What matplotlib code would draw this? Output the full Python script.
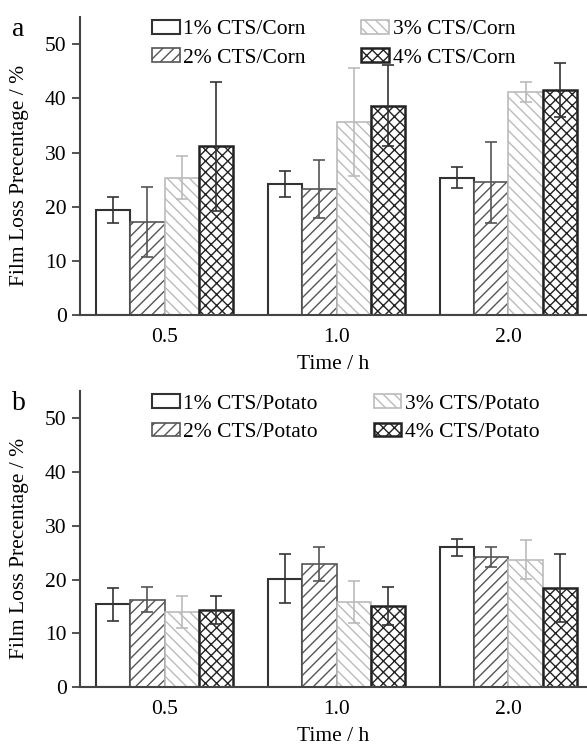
import numpy as np
import matplotlib.pyplot as plt

plt.rcParams['font.family'] = ['Liberation Serif', 'DejaVu Serif']
plt.rcParams['font.size'] = 15.5
plt.rcParams['hatch.linewidth'] = 1.0

times = ['0.5', '1.0', '2.0']
levels = ['1%', '2%', '3%', '4%']

# film loss (%) and error, panel a: corn
corn_vals = [[19.5, 24.3, 25.4],
             [17.2, 23.3, 24.5],
             [25.4, 35.7, 41.2],
             [31.2, 38.7, 41.5]]
corn_err = [[2.4, 2.4, 1.9],
            [6.5, 5.3, 7.5],
            [4.0, 10.0, 1.8],
            [11.9, 7.5, 5.0]]

# panel b: potato
potato_vals = [[15.4, 20.2, 26.0],
               [16.3, 22.9, 24.2],
               [14.0, 15.9, 23.7],
               [14.3, 15.1, 18.5]]
potato_err = [[3.0, 4.5, 1.6],
              [2.3, 3.2, 1.8],
              [3.0, 3.9, 3.6],
              [2.6, 3.5, 6.3]]

styles = [dict(hatch='', edge='#333333', ecol='#333333', lw=1.5),
          dict(hatch='///', edge='#555555', ecol='#555555', lw=1.2),
          dict(hatch='\\\\\\', edge='#bbbbbb', ecol='#bbbbbb', lw=1.2),
          dict(hatch='xxx', edge='#222222', ecol='#333333', lw=1.8)]

fig = plt.figure(figsize=(5.87, 7.47), dpi=100)
ax_a = fig.add_axes([0.136, 0.578, 0.862, 0.399])
ax_b = fig.add_axes([0.136, 0.08, 0.862, 0.396])

x = np.arange(len(times))
w = 0.2


def draw(ax, vals, errs, name, letter):
    for i in range(4):
        st = styles[i]
        pos = x - 0.3 + i * w
        ax.bar(pos, vals[i], w, facecolor='white', edgecolor=st['edge'],
               hatch=st['hatch'], linewidth=st['lw'],
               label=levels[i] + ' CTS/' + name)
        ax.errorbar(pos, vals[i], yerr=errs[i], fmt='none', ecolor=st['ecol'],
                    elinewidth=1.2, capsize=4, capthick=1.2)
    ax.set_xlim(-0.493, 2.45)
    ax.set_ylim(0, 55)
    ax.set_yticks([0, 10, 20, 30, 40, 50])
    ax.set_xticks(x)
    ax.set_xticklabels(times)
    ax.spines['top'].set_visible(False)
    ax.spines['right'].set_visible(False)
    for s in ['left', 'bottom']:
        ax.spines[s].set_color('#444444')
        ax.spines[s].set_linewidth(1.5)
    ax.tick_params(axis='y', direction='out', length=6, width=1.3, color='#444444')
    ax.tick_params(axis='x', direction='out', length=0, pad=9)
    ax.set_xlabel('Time / h', labelpad=6)
    ax.set_ylabel('Film Loss Precentage / %', labelpad=6)
    ax.yaxis.set_label_coords(-0.1, 0.47)
    ax.text(-0.135, 0.96, letter, transform=ax.transAxes, fontsize=20,
            ha='left', va='center')
    ax.legend(ncol=2, frameon=False, loc='upper left',
              bbox_to_anchor=(0.125, 1.02), handlelength=1.3, handleheight=0.6,
              handletextpad=0.15, columnspacing=2.6, labelspacing=0.42,
              borderaxespad=0)


draw(ax_a, corn_vals, corn_err, 'Corn', 'a')
draw(ax_b, potato_vals, potato_err, 'Potato', 'b')

fig.savefig('out.png', dpi=100)
